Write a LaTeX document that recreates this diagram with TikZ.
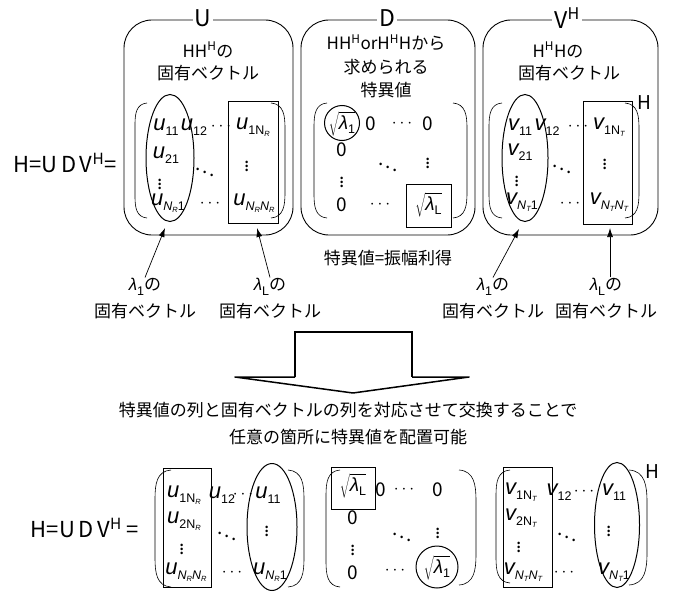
\documentclass[tikz,border=0pt]{standalone}
\usepackage{fontspec}
\setmainfont{Noto Sans CJK JP}
\newfontfamily\ltn{Liberation Sans}
\usetikzlibrary{arrows.meta,shapes.geometric}
\newcommand\sbs[1]{\raisebox{-0.45ex}{\fontsize{12.5}{12}\selectfont\ltn\upshape #1}}
\newcommand\ssb[1]{\raisebox{-0.3ex}{\fontsize{7.5}{7}\selectfont\ltn\itshape #1}}
\newcommand\ent[2]{{\fontsize{22}{22}\selectfont\ltn\itshape #1}\sbs{#2}}
\newcommand\lam[1]{{\ltn\itshape λ}\sbs{#1}}
\newcommand\sq[1]{$\sqrt{\mbox{\lam{#1}}}$}
\newcommand\lpar[4]{\draw[parenline] (#1+#4,#2) .. controls (#1+0.1*#4,#2+1) and (#1,#2+0.9*#4) .. (#1,#2+1.8*#4) -- (#1,#3-1.8*#4) .. controls (#1,#3-0.9*#4) and (#1+0.1*#4,#3-1) .. (#1+#4,#3);}
\newcommand\rpar[4]{\draw[parenline] (#1-#4,#2) .. controls (#1-0.1*#4,#2+1) and (#1,#2+0.9*#4) .. (#1,#2+1.8*#4) -- (#1,#3-1.8*#4) .. controls (#1,#3-0.9*#4) and (#1-0.1*#4,#3-1) .. (#1-#4,#3);}
\begin{document}
\begin{tikzpicture}[x=1pt,y=-1pt,
  bigbox/.style={draw, rounded corners=28pt, line width=0.9pt, minimum width=#1},
  ell/.style={draw, ellipse, line width=1pt, inner sep=0pt},
  hrect/.style={draw, line width=1pt, inner sep=0pt},
  parenline/.style={line width=0.6pt},
  jp/.style={font=\fontsize{17}{27}\selectfont, inner sep=1pt},
  ent/.style={font=\fontsize{19}{20}\selectfont, inner sep=0pt},
  lbl/.style={font=\fontsize{23}{24}\selectfont, fill=white, inner sep=2pt},
  eqn/.style={font=\fontsize{22}{24}\selectfont, inner sep=0pt},
  arr/.style={-{Latex[length=9pt,width=6pt]}, line width=0.7pt}]
\useasboundingbox (0,0) rectangle (676,591);

% ---------- top boxes ----------
\node[bigbox=169pt, minimum height=215pt] (Ubox) at (208.5,127.5) {};
\node[bigbox=174pt, minimum height=215pt] (Dbox) at (388,127.5) {};
\node[bigbox=175pt, minimum height=215pt] (Vbox) at (570.5,127.5) {};
\node[lbl] (Ul) at (203,18) {U};
\node[lbl] (Dl) at (387,18) {D};
\node[lbl] (Vl) at (567,18) {V\textsuperscript{H}};

\node[eqn] (eq1) at (65,163) {H=U\,D\,V\textsuperscript{H}=};

\node[jp] (ut1) at (208,50) {HH\textsuperscript{H}の};
\node[jp] (ut2) at (208,73) {固有ベクトル};
\node[jp] (dt1) at (386,43) {HH\textsuperscript{H}orH\textsuperscript{H}Hから};
\node[jp] (dt2) at (386,67) {求められる};
\node[jp] (dt3) at (386,90) {特異値};
\node[jp] (vt1) at (558,50) {H\textsuperscript{H}Hの};
\node[jp] (vt2) at (569,73) {固有ベクトル};

% U matrix
\lpar{135}{103}{218}{12}
\rpar{285}{103}{218}{14}
\node[ell, minimum width=48pt, minimum height=127pt] (e1) at (170,158) {};
\node[hrect, minimum width=50pt, minimum height=121pt] (r1) at (253,162.5) {};
\node[ent] (u11) at (166,127) {\ent{u}{11}};
\node[ent] (u12) at (194,127) {\ent{u}{12}};
\node[ent] (uc1) at (221,127) {$\cdots$};
\node[ent] (u1n) at (253,127) {\ent{u}{1N\ssb{R}}};
\node[ent] (u21) at (166,155) {\ent{u}{21}};
\node[ent] (uv1) at (160,181) {$\vdots$};
\node[ent] (ud) at (205,169) {$\ddots$};
\node[ent] (uv2) at (247,163) {$\vdots$};
\node[ent] (un1) at (168,203) {\ent{u}{{\itshape N}\ssb{R}1}};
\node[ent] (uc2) at (210,204) {$\cdots$};
\node[ent] (unn) at (254,203) {\ent{u}{{\itshape N}\ssb{R}{\itshape N}\ssb{R}}};

% D matrix
\lpar{314}{103}{218}{13}
\rpar{467}{103}{218}{14}
\node[ent] (dl1) at (342,124) {\sq{1}};
\node[draw, circle, line width=1pt, minimum size=35pt, inner sep=0pt] (dc1) at (342,123) {};
\node[ent] (d0a) at (371,124) {0};
\node[ent] (dca) at (402,124) {$\cdots$};
\node[ent] (d0b) at (428,124) {0};
\node[ent] (d0c) at (342,150) {0};
\node[ent] (ddd) at (388,164) {$\ddots$};
\node[ent] (dva) at (428,160) {$\vdots$};
\node[ent] (dvb) at (342,179) {$\vdots$};
\node[ent] (d0d) at (342,205) {0};
\node[ent] (dcb) at (380,205) {$\cdots$};
\node[ent] (dlL) at (428.5,205) {\sq{L}};
\node[hrect, minimum width=45pt, minimum height=43pt] (dr1) at (428.5,205.5) {};

% V matrix
\lpar{489}{103}{218}{13}
\rpar{639}{103}{218}{14}
\node[ell, minimum width=46pt, minimum height=127pt] (e2) at (525,158) {};
\node[hrect, minimum width=49pt, minimum height=122pt] (r2) at (607.5,163) {};
\node[font=\fontsize{19}{20}\selectfont, inner sep=0pt] (vH) at (644,103) {H};
\node[ent] (v11) at (520,127) {\ent{v}{11}};
\node[ent] (v12) at (547,127) {\ent{v}{12}};
\node[ent] (vc1) at (578,127) {$\cdots$};
\node[ent] (v1n) at (609,127) {\ent{v}{1N\ssb{T}}};
\node[ent] (v21) at (520,152) {\ent{v}{21}};
\node[ent] (vv1) at (517,178) {$\vdots$};
\node[ent] (vd) at (562,166) {$\ddots$};
\node[ent] (vv2) at (605,161) {$\vdots$};
\node[ent] (vn1) at (522,202) {\ent{v}{{\itshape N}\ssb{T}1}};
\node[ent] (vc2) at (570,204) {$\cdots$};
\node[ent] (vnn) at (609,202) {\ent{v}{{\itshape N}\ssb{T}{\itshape N}\ssb{T}}};

% labels and arrows
\node[jp] (sv) at (388,258) {特異値=振幅利得};
\node[jp, align=center] (la1) at (145,299) {\lam{1}の\\固有ベクトル};
\node[jp, align=center] (la2) at (270,299) {\lam{L}の\\固有ベクトル};
\node[jp, align=center] (la3) at (493,299) {\lam{1}の\\固有ベクトル};
\node[jp, align=center] (la4) at (606,299) {\lam{L}の\\固有ベクトル};
\coordinate (t1) at (165,228);
\coordinate (t2) at (257,228);
\coordinate (t3) at (519,229);
\coordinate (t4) at (610,228);
\draw[arr] (la1.north) -- (t1);
\draw[arr] (la2.north) -- (t2);
\draw[arr] (la3.north) -- (t3);
\draw[arr] ([xshift=4pt]la4.north) -- (t4);

% big arrow
\draw[line width=2pt, line join=miter] (295,377) -- (295,332) -- (412,332) -- (412,377);
\draw[line width=1.5pt, line join=round] (295,377) -- (235,377) -- (353,393) -- (469,377) -- (412,377);

\node[jp, align=center] (desc) at (348,424) {特異値の列と固有ベクトルの列を対応させて交換することで\\任意の箇所に特異値を配置可能};

% ---------- bottom ----------
\node[eqn] (eq2) at (85,528) {H=U\,D\,V\textsuperscript{H} =};

% U'
\lpar{155}{470}{587}{16}
\rpar{304}{470}{587}{16}
\node[hrect, minimum width=48pt, minimum height=119pt] (r3) at (187,527.5) {};
\node[ell, minimum width=50pt, minimum height=127pt] (e3) at (272,527) {};
\node[ent] (b1) at (184,495) {\ent{u}{1N\ssb{R}}};
\node[ent] (b2) at (222,495) {\ent{u}{12}};
\node[ent] (b3) at (243,495) {$\cdots$};
\node[ent] (b4) at (268,495) {\ent{u}{11}};
\node[ent] (b5) at (184,521) {\ent{u}{2N\ssb{R}}};
\node[ent] (b6) at (182,546) {$\vdots$};
\node[ent] (b7) at (227,533) {$\ddots$};
\node[ent] (b8) at (267,528) {$\vdots$};
\node[ent] (b9) at (186,572) {\ent{u}{{\itshape N}\ssb{R}{\itshape N}\ssb{R}}};
\node[ent] (b10) at (232,573) {$\cdots$};
\node[ent] (b11) at (270,572) {\ent{u}{{\itshape N}\ssb{R}1}};

% D'
\lpar{326}{470}{587}{14}
\rpar{476}{470}{585}{17}
\node[ent] (c1) at (353,486) {\sq{L}};
\node[hrect, minimum width=44pt, minimum height=42pt] (r4) at (353,488) {};
\node[ent] (c2) at (381,490) {0};
\node[ent] (c3) at (404,490) {$\cdots$};
\node[ent] (c4) at (438,490) {0};
\node[ent] (c5) at (353,518) {0};
\node[ent] (c6) at (402,534) {$\ddots$};
\node[ent] (c7) at (438,530) {$\vdots$};
\node[ent] (c8) at (353,547) {$\vdots$};
\node[ent] (c9) at (353,573) {0};
\node[ent] (c10) at (395,571) {$\cdots$};
\node[ent] (c11) at (437,568) {\sq{1}};
\node[draw, circle, line width=1pt, minimum size=42pt, inner sep=0pt] (c12) at (437,567) {};

% V'
\lpar{496}{470}{583}{14}
\rpar{647}{470}{585}{18}
\node[hrect, minimum width=49pt, minimum height=120pt] (r5) at (527.5,527) {};
\node[ell, minimum width=45pt, minimum height=125pt] (e5) at (617,525) {};
\node[font=\fontsize{19}{20}\selectfont, inner sep=0pt] (vH2) at (652,472) {H};
\node[ent] (w1) at (521,492) {\ent{v}{1N\ssb{T}}};
\node[ent] (w2) at (559,492) {\ent{v}{12}};
\node[ent] (w3) at (584,492) {$\cdots$};
\node[ent] (w4) at (614,492) {\ent{v}{11}};
\node[ent] (w5) at (521,518) {\ent{v}{2N\ssb{T}}};
\node[ent] (w6) at (519,544) {$\vdots$};
\node[ent] (w7) at (567,534) {$\ddots$};
\node[ent] (w8) at (609,528) {$\vdots$};
\node[ent] (w9) at (523,572) {\ent{v}{{\itshape N}\ssb{T}{\itshape N}\ssb{T}}};
\node[ent] (w10) at (564,573) {$\cdots$};
\node[ent] (w11) at (614,572) {\ent{v}{{\itshape N}\ssb{T}1}};
\end{tikzpicture}
\end{document}
